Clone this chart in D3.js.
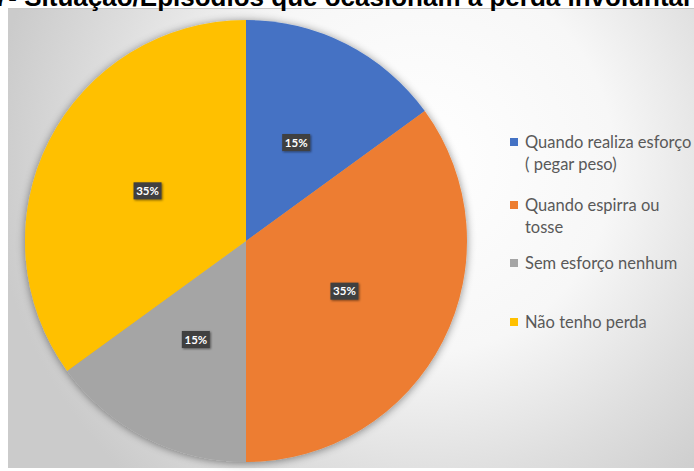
<!DOCTYPE html>
<html>
<head>
<meta charset="utf-8">
<script src="https://cdn.jsdelivr.net/npm/d3@7"></script>
<style>
  html, body { margin: 0; padding: 0; background: #ffffff; }
  svg { display: block; }
</style>
</head>
<body>
<svg id="chart" width="694" height="471"></svg>
<script>
const titleText = "7- Situação/Episódios que ocasionam a perda involuntária de urina";
const categories = ["Quando realiza esforço ( pegar peso)", "Quando espirra ou tosse", "Sem esforço nenhum", "Não tenho perda"];
const legendLines = [["Quando realiza esforço", "( pegar peso)"], ["Quando espirra ou", "tosse"], ["Sem esforço nenhum"], ["Não tenho perda"]];
const values = [0.15, 0.35, 0.15, 0.35];
const colors = ["#4472C4", "#ED7D31", "#A5A5A5", "#FFC000"];

const svg = d3.select("#chart");
const defs = svg.append("defs");

const grad = defs.append("radialGradient")
  .attr("id", "bg").attr("gradientUnits", "userSpaceOnUse")
  .attr("cx", 420).attr("cy", 160).attr("r", 430);
[[0, "#ffffff"], [0.45, "#f7f7f7"], [0.75, "#dedede"], [1, "#cbcbcb"]].forEach(([o, c]) =>
  grad.append("stop").attr("offset", o).attr("stop-color", c));

const sh = defs.append("filter").attr("id", "pieShadow")
  .attr("x", "-10%").attr("y", "-10%").attr("width", "120%").attr("height", "120%");
sh.append("feDropShadow").attr("dx", 0).attr("dy", 1).attr("stdDeviation", 4)
  .attr("flood-color", "#000").attr("flood-opacity", 0.45);

const lsh = defs.append("filter").attr("id", "lblShadow")
  .attr("x", "-30%").attr("y", "-30%").attr("width", "160%").attr("height", "160%");
lsh.append("feDropShadow").attr("dx", 1).attr("dy", 1).attr("stdDeviation", 1)
  .attr("flood-color", "#000").attr("flood-opacity", 0.5);

// chart area
svg.append("rect").attr("x", 8).attr("y", 9).attr("width", 700).attr("height", 459)
  .attr("fill", "url(#bg)");
svg.append("line").attr("x1", 8).attr("x2", 694).attr("y1", 8.5).attr("y2", 8.5)
  .attr("stroke", "#c8c8c8").attr("stroke-width", 1);

// title (cut at top, as in the reference)
const titleSize = 26;
const title = svg.append("text")
  .attr("y", 6)
  .attr("font-family", "Liberation Sans, Arial, sans-serif")
  .attr("font-weight", "bold")
  .attr("font-size", titleSize)
  .attr("fill", "#000")
  .text(titleText);
const prefix = svg.append("text")
  .attr("font-family", "Liberation Sans, Arial, sans-serif")
  .attr("font-weight", "bold").attr("font-size", titleSize).text("7- ");
const pw = prefix.node().getComputedTextLength();
prefix.remove();
title.attr("x", 17 - pw);

// pie
const cx = 246, cy = 241, R = 221;
const pie = d3.pie().sort(null).value(d => d)(values);
const arc = d3.arc().innerRadius(0).outerRadius(R);
const labelArc = d3.arc().innerRadius(R * 0.5).outerRadius(R * 0.5);

const g = svg.append("g").attr("transform", `translate(${cx},${cy})`);
g.append("g").attr("filter", "url(#pieShadow)")
  .selectAll("path").data(pie).join("path")
  .attr("d", arc)
  .attr("fill", (d, i) => colors[i])
  .attr("stroke", "none");

const fmt = d3.format(".0%");
const lbl = g.selectAll("g.lbl").data(pie).join("g")
  .attr("class", "lbl")
  .attr("transform", d => `translate(${labelArc.centroid(d)})`);
lbl.append("rect")
  .attr("x", -14).attr("y", -8.5).attr("width", 28).attr("height", 17)
  .attr("fill", "#404040").attr("filter", "url(#lblShadow)");
lbl.append("text")
  .attr("text-anchor", "middle").attr("dy", "0.36em")
  .attr("font-family", "Lato, sans-serif").attr("font-weight", "bold")
  .attr("font-size", 11.5).attr("fill", "#ffffff")
  .text(d => fmt(d.data));

// legend
const legendY = [142, 205, 263, 322];
const leg = svg.append("g");
categories.forEach((c, i) => {
  const y = legendY[i];
  leg.append("rect").attr("x", 510).attr("y", y - 4).attr("width", 8).attr("height", 8)
    .attr("fill", colors[i]);
  const t = leg.append("text")
    .attr("x", 525).attr("y", y + 6)
    .attr("font-family", "Lato, sans-serif").attr("font-size", 16.5)
    .attr("fill", "#595959");
  legendLines[i].forEach((ln, j) => {
    t.append("tspan").attr("x", 525).attr("dy", j === 0 ? 0 : 22).text(ln);
  });
});
</script>
</body>
</html>
